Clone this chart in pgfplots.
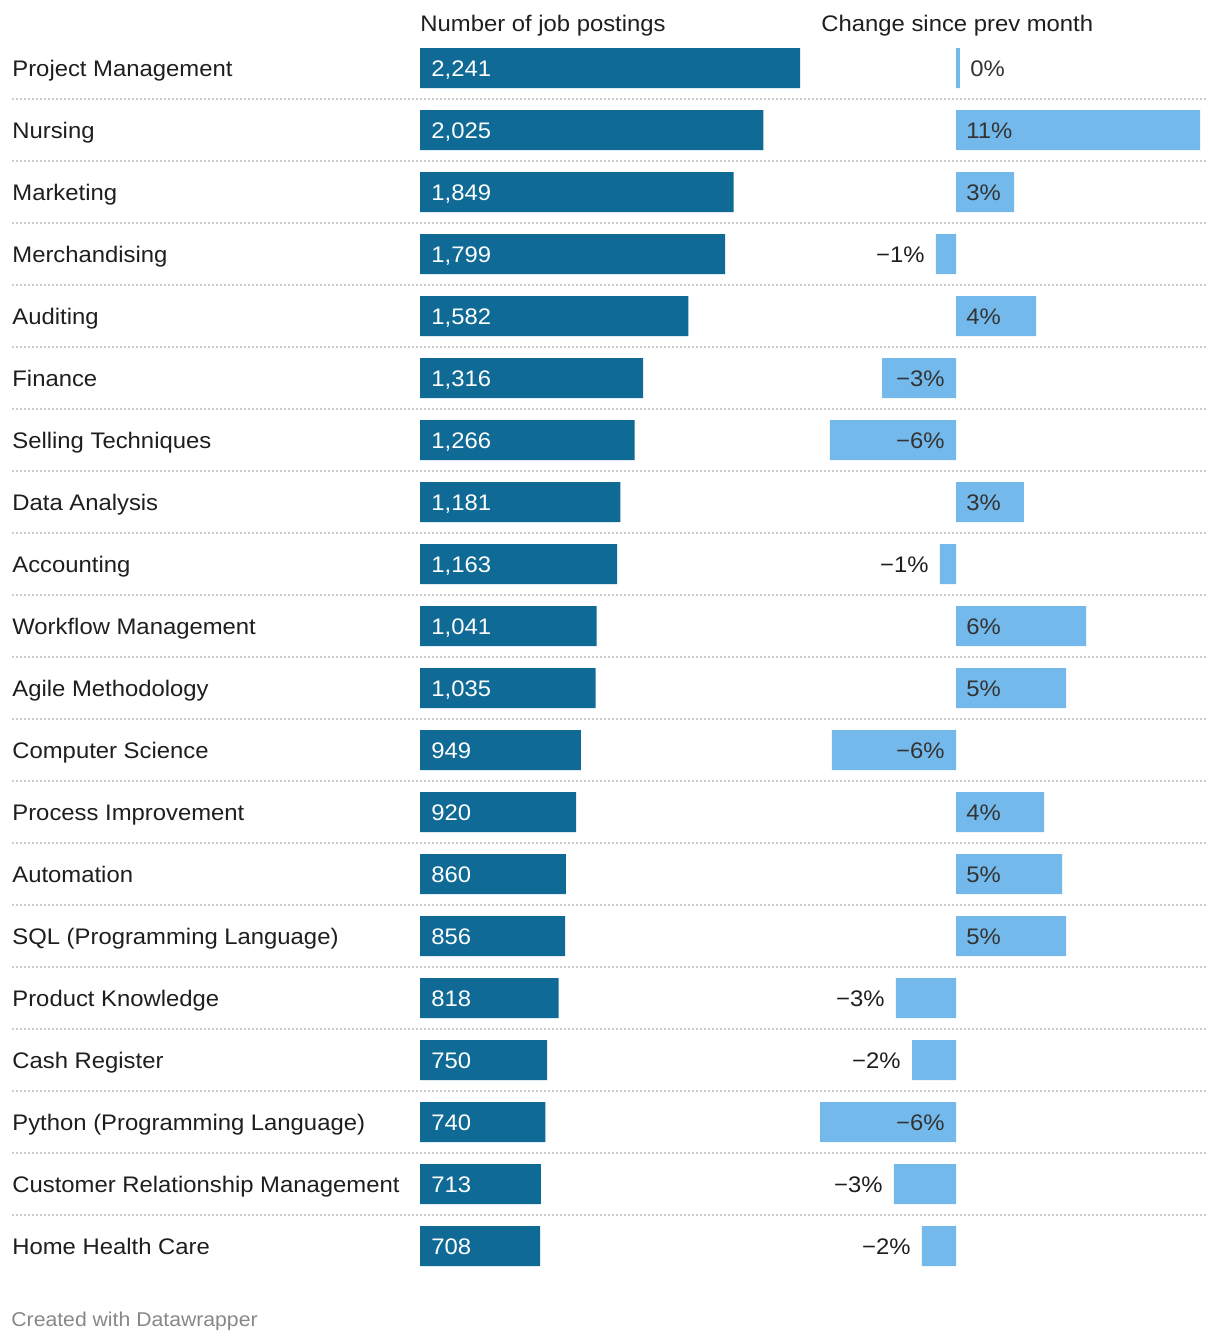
\documentclass[border=0pt]{standalone}
\usepackage{pgfplots}
\pgfplotsset{compat=1.18}
\usepackage{pgfplotstable}
\usepackage{fontspec}
\setmainfont{Liberation Sans}[FakeStretch=1.06]
\definecolor{darkbar}{HTML}{0F6A96}
\definecolor{lightbar}{HTML}{74B9EB}
\definecolor{txt}{HTML}{1E1E1E}
\definecolor{lbltxt}{HTML}{333333}
\definecolor{sepc}{HTML}{CCCCCC}
\definecolor{foot}{HTML}{888888}
\newcommand{\lbl}{\fontsize{11.25pt}{13.5pt}\selectfont}

\pgfplotstableread[col sep=comma]{
i,name
0,Project Management
1,Nursing
2,Marketing
3,Merchandising
4,Auditing
5,Finance
6,Selling Techniques
7,Data Analysis
8,Accounting
9,Workflow Management
10,Agile Methodology
11,Computer Science
12,Process Improvement
13,Automation
14,SQL (Programming Language)
15,Product Knowledge
16,Cash Register
17,Python (Programming Language)
18,Customer Relationship Management
19,Home Health Care
}\names

\pgfplotstableread{
i n
0 2241
1 2025
2 1849
3 1799
4 1582
5 1316
6 1266
7 1181
8 1163
9 1041
10 1035
11 949
12 920
13 860
14 856
15 818
16 750
17 740
18 713
19 708
}\postings

\pgfplotstableread{
i v
0 0.18
1 11.09
2 2.64
3 -0.91
4 3.64
5 -3.36
6 -5.73
7 3.09
8 -0.73
9 5.91
10 5.0
11 -5.64
12 4.0
13 4.82
14 5.0
15 -2.73
16 -2.0
17 -6.18
18 -2.82
19 -1.55
}\change

\pgfplotsset{rowaxis/.style={scale only axis, height=620pt, ymin=-0.5, ymax=19.5,
  y dir=reverse, clip=false, axis line style={draw=none}, tick style={draw=none},
  xtick=\empty, ytick=\empty, anchor=north west},
  lblstyle/.style={draw=none, mark=none, nodes near coords,
  nodes near coords style={inner sep=0pt, yshift=-4pt, font=\lbl, #1}}}

\begin{document}
\begin{tikzpicture}
\path[use as bounding box] (0,0) rectangle (610pt,-671pt);

% separators and row names
\begin{axis}[rowaxis, at={(6pt,-18.5pt)}, width=598pt, xmin=0, xmax=1,
  ytick={0.5,1.5,...,18.5}, yticklabels={}, ymajorgrids,
  major grid style={sepc, line width=1pt, dash pattern=on 1pt off 1pt}]
\addplot[lblstyle={anchor=base west, text=txt}, point meta=explicit symbolic]
  table[x expr=0, y=i, meta=name] {\names};
\end{axis}

% job postings
\begin{axis}[rowaxis, at={(210pt,-18.5pt)}, width=190pt, xmin=0, xmax=2241,
  /pgf/number format/fixed, /pgf/number format/precision=0,
  /pgf/number format/1000 sep={,}, /pgf/number format/assume math mode=true]
\addplot[xbar, bar width=20pt, fill=darkbar, draw=none] table[x=n, y=i] {\postings};
\addplot[lblstyle={anchor=base west, xshift=5.5pt, text=white}, point meta=\thisrow{n}]
  table[x expr=0, y=i] {\postings};
\end{axis}

% change since previous month
\begin{axis}[rowaxis, at={(401pt,-18.5pt)}, width=203.5pt, xmin=-7, xmax=11.5]
\addplot[xbar, bar width=20pt, fill=lightbar, draw=none] table[x=v, y=i] {\change};
% labels inside positive bars
\addplot[lblstyle={anchor=base west, xshift=5pt, text=lbltxt}, point meta=explicit symbolic]
  table[meta=lab] {
x y lab
0.18 0 0\%
0 1 11\%
0 2 3\%
0 4 4\%
0 7 3\%
0 9 6\%
0 10 5\%
0 12 4\%
0 13 5\%
0 14 5\%
};
% labels inside long negative bars
\addplot[lblstyle={anchor=base east, xshift=-5.5pt, text=lbltxt}, point meta=explicit symbolic]
  table[meta=lab] {
x y lab
0 5 −3\%
0 6 −6\%
0 11 −6\%
0 17 −6\%
};
% labels left of short negative bars
\addplot[lblstyle={anchor=base east, xshift=-5.5pt, text=txt}, point meta=explicit symbolic]
  table[meta=lab] {
x y lab
-0.91 3 −1\%
-0.73 8 −1\%
-2.73 15 −3\%
-2.0 16 −2\%
-2.82 18 −3\%
-1.55 19 −2\%
};
\end{axis}

\node[anchor=base west, inner sep=0pt, text=txt, font=\lbl] at (210pt,-16pt) {Number of job postings};
\node[anchor=base west, inner sep=0pt, text=txt, font=\lbl] at (410.5pt,-16pt) {Change since prev month};
\node[anchor=base west, inner sep=0pt, text=foot, font=\fontsize{10pt}{12pt}\selectfont] at (5.5pt,-663pt) {Created with Datawrapper};
\end{tikzpicture}
\end{document}
